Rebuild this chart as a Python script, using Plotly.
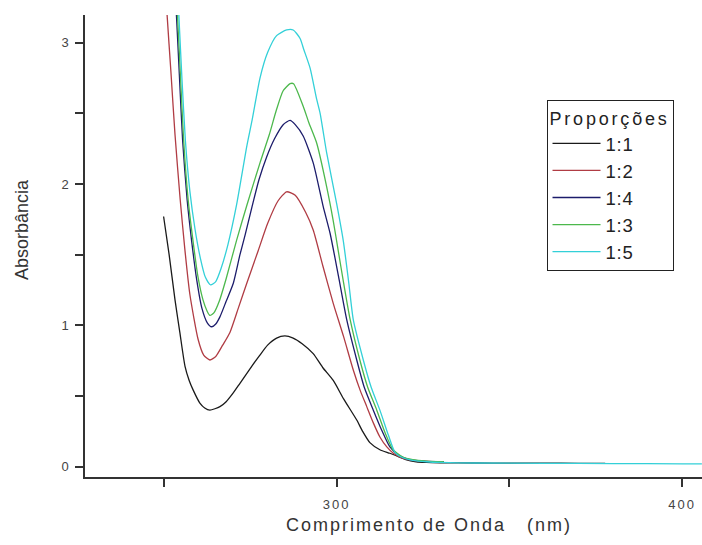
import plotly.graph_objects as go

# UV-Vis absorption spectra for each mixing proportion
wl_11 = [249.9, 251.5, 253.2, 254.6, 256.1, 257.3, 258.5, 260.4, 261.8, 263.3, 266.2, 268.0,
         270.0, 272.0, 275.4, 277.5, 280.0, 282.6, 285.0, 287.4, 290.0, 293.2, 296.0, 299.0,
         302.0, 305.8, 307.5, 309.6, 312.5, 315.4, 318.0, 320.0, 323.0, 326.0, 330.0, 340.0,
         350.0, 360.0, 370.0, 377.7]
abs_11 = [1.77, 1.50, 1.18, 0.95, 0.71, 0.61, 0.54, 0.45, 0.415, 0.40, 0.425, 0.46,
          0.52, 0.59, 0.71, 0.78, 0.86, 0.91, 0.925, 0.91, 0.87, 0.80, 0.70, 0.61,
          0.48, 0.33, 0.25, 0.17, 0.12, 0.095, 0.07, 0.05, 0.035, 0.03, 0.028, 0.026,
          0.025, 0.025, 0.024, 0.024]

wl_12 = [250.6, 250.9, 252.0, 253.2, 254.7, 256.0, 257.5, 259.9, 261.5, 263.3, 265.0, 267.0,
         269.1, 271.5, 274.0, 277.3, 280.0, 283.0, 285.5, 288.0, 291.0, 293.2, 296.0, 299.0,
         302.0, 304.8, 306.8, 308.7, 310.6, 312.5, 314.5, 316.4, 319.0, 322.0, 326.0, 331.0]
abs_12 = [3.35, 3.2, 2.8, 2.35, 1.89, 1.55, 1.22, 0.90, 0.79, 0.755, 0.78, 0.86,
          0.95, 1.12, 1.30, 1.53, 1.72, 1.88, 1.945, 1.92, 1.80, 1.675, 1.42, 1.156,
          0.92, 0.684, 0.54, 0.425, 0.31, 0.21, 0.14, 0.095, 0.06, 0.045, 0.038, 0.035]

wl_14 = [253.2, 253.6, 254.5, 255.4, 256.7, 258.0, 259.5, 261.0, 262.5, 263.8, 265.0, 266.2,
         268.0, 270.1, 272.0, 273.5, 275.5, 277.5, 279.7, 282.0, 284.5, 286.5, 288.0, 290.3,
         293.2, 296.1, 298.1, 300.5, 302.9, 305.8, 308.0, 310.6, 313.0, 315.4, 318.0, 321.0,
         325.0, 331.0]
abs_14 = [3.35, 3.2, 2.75, 2.31, 1.89, 1.60, 1.32, 1.12, 1.02, 0.99, 1.01, 1.06,
          1.17, 1.30, 1.50, 1.64, 1.84, 2.03, 2.19, 2.32, 2.42, 2.45, 2.42, 2.34,
          2.15, 1.84, 1.65, 1.35, 1.04, 0.755, 0.56, 0.40, 0.26, 0.14, 0.08, 0.05,
          0.04, 0.035]

wl_13 = [253.5, 253.9, 254.8, 255.7, 257.0, 258.4, 259.8, 261.3, 262.5, 263.3, 264.5, 266.0,
         268.0, 271.0, 274.0, 277.8, 280.5, 282.5, 284.5, 286.5, 287.5, 290.3, 292.0, 294.2,
         297.1, 299.0, 300.5, 302.0, 303.9, 306.7, 309.0, 311.6, 314.0, 316.3, 319.0, 322.0,
         326.0, 331.0]
abs_13 = [3.35, 3.2, 2.75, 2.31, 1.89, 1.60, 1.35, 1.18, 1.10, 1.07, 1.09, 1.17,
          1.33, 1.60, 1.85, 2.15, 2.35, 2.52, 2.66, 2.71, 2.71, 2.55, 2.43, 2.29,
          1.98, 1.74, 1.52, 1.30, 1.04, 0.755, 0.56, 0.40, 0.24, 0.12, 0.07, 0.05,
          0.04, 0.035]

wl_15 = [254.0, 254.3, 255.2, 256.2, 257.5, 259.0, 260.5, 262.0, 263.5, 265.0, 266.5, 268.5,
         271.0, 274.0, 275.5, 277.8, 280.0, 282.6, 285.5, 287.4, 289.4, 290.5, 292.3, 294.2,
         295.2, 297.1, 300.0, 301.9, 303.5, 304.8, 307.7, 310.0, 312.5, 315.0, 316.9, 319.0,
         322.0, 326.0, 330.0, 340.0, 360.0, 380.0, 400.0, 405.7]
abs_15 = [3.35, 3.2, 2.75, 2.31, 1.95, 1.68, 1.48, 1.34, 1.286, 1.31, 1.40, 1.57,
          1.85, 2.27, 2.45, 2.75, 2.93, 3.05, 3.09, 3.09, 3.03, 2.95, 2.82, 2.60,
          2.50, 2.22, 1.86, 1.60, 1.30, 1.04, 0.755, 0.56, 0.40, 0.22, 0.10, 0.065,
          0.045, 0.035, 0.03, 0.026, 0.024, 0.022, 0.02, 0.02]

series = [
    ("1:1", wl_11, abs_11, "#1a1a1a"),
    ("1:2", wl_12, abs_12, "#b03c44"),
    ("1:4", wl_14, abs_14, "#1c1c6b"),
    ("1:3", wl_13, abs_13, "#4cb84c"),
    ("1:5", wl_15, abs_15, "#33d0d8"),
]

x_ticks = [250, 300, 350, 400]
x_labels = ["", "300", "", "400"]
y_ticks = [0, 0.5, 1, 1.5, 2, 2.5, 3]
y_labels = ["0", "", "1", "", "2", "", "3"]

FONT = "Liberation Sans, Arial, sans-serif"


def spaced(text, px):
    """Wrap text in a span with extra letter spacing."""
    if not text:
        return text
    return f'<span style="letter-spacing:{px}px">{text}</span>'


fig = go.Figure()
for name, wl, ab, color in series:
    fig.add_trace(go.Scatter(
        x=wl, y=ab, name=spaced(name, 0.8), mode="lines",
        line=dict(color=color, width=1.3, shape="spline", smoothing=0.6),
    ))

fig.update_layout(
    width=702, height=545,
    margin=dict(l=85, r=0, t=15, b=68),
    paper_bgcolor="white", plot_bgcolor="white",
    font=dict(family=FONT, color="#333"),
    showlegend=True,
    legend=dict(
        title=dict(text=spaced("Proporções", 2.8), font=dict(size=18, color="#222")),
        font=dict(size=18.5, color="#222"),
        x=0.748, y=0.815, xanchor="left", yanchor="top",
        bordercolor="#222", borderwidth=1, bgcolor="white",
        itemwidth=48,
    ),
    xaxis=dict(
        range=[227.15, 405.73], showline=True, linecolor="#333", linewidth=1.5,
        ticks="outside", ticklen=8, tickwidth=1.5, tickcolor="#333",
        tickvals=x_ticks, ticktext=[spaced(t, 2) for t in x_labels],
        tickfont=dict(size=13, color="#444"), ticklabelstandoff=7,
        showgrid=False, zeroline=False,
    ),
    yaxis=dict(
        range=[-0.073, 3.196], showline=True, linecolor="#333", linewidth=1.5,
        ticks="outside", ticklen=8, tickwidth=1.5, tickcolor="#333",
        tickvals=y_ticks, ticktext=y_labels, tickfont=dict(size=13, color="#444"),
        ticklabelstandoff=4,
        showgrid=False, zeroline=False,
    ),
    annotations=[
        dict(text=spaced("Comprimento de Onda   (nm)", 2), xref="paper", yref="paper",
             x=0.5575, y=-0.1039, xanchor="center", yanchor="middle",
             showarrow=False, font=dict(size=18, color="#333")),
        dict(text="Absorbância", xref="paper", yref="paper",
             x=-0.1022, y=0.5368, xanchor="center", yanchor="middle",
             textangle=-90, showarrow=False, font=dict(size=18, color="#333")),
    ],
)

fig.write_html("out.html")
